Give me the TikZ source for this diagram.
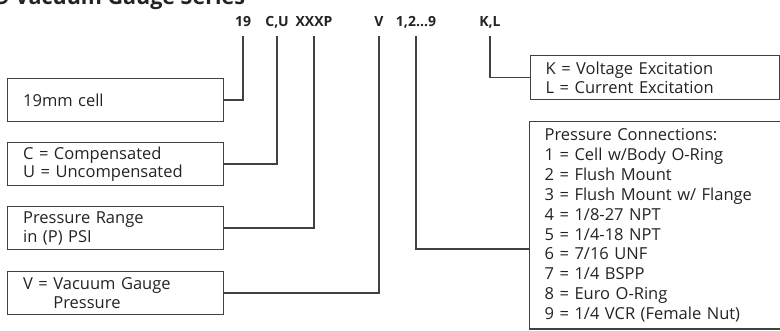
\documentclass[tikz,border=0pt]{standalone}
\usepackage{fontspec}
\setmainfont{Open Sans}
\usetikzlibrary{positioning, calc}
\definecolor{inkgray}{RGB}{35,35,35}
\definecolor{rulegray}{RGB}{65,65,65}

\begin{document}
\begin{tikzpicture}[x=1pt, y=-1pt,
    code/.style={font=\bfseries\fontsize{14}{16}\selectfont, text=inkgray, anchor=base, inner xsep=0pt, inner ysep=7pt, text height=9pt, text depth=2pt},
    optbox/.style={draw=rulegray, line width=1.3pt, text=inkgray, align=left, anchor=north west, inner xsep=15pt, inner ysep=0pt, font=\fontsize{16.5}{18.8}\selectfont},
    leftbox/.style={optbox, minimum width=216pt, minimum height=43pt, text width=185pt},
    link/.style={draw=rulegray, line width=1.3pt}
]
\useasboundingbox (0,0) rectangle (780,331);

% Title (cut at the top edge)
\node[font=\bfseries\fontsize{21.5}{24}\selectfont, text=inkgray, anchor=base west, inner sep=0pt] (title) at (-3,5) {9 Vacuum Gauge Series};

% Model code
\node[code] (c19) at (243,27) {19};
\node[code] (ccu) at (277,27) {C,U};
\node[code] (cxxxp) at (314,27) {XXXP};
\node[code] (cv) at (379,27) {V};
\node[code] (cconn) at (416,27) {1,2...9};
\node[code] (ckl) at (490,27) {K,L};

% Left column
\node[leftbox] (cell) at (7,78) {19mm cell};
\node[leftbox] (comp) at (7,142) {C = Compensated\\U = Uncompensated};
\node[leftbox] (range) at (7,206) {Pressure Range\\in (P) PSI};
\node[leftbox] (vac) at (7,271) {V = Vacuum Gauge\\\phantom{V = }Pressure};

% Right column
\node[optbox, minimum width=249pt, minimum height=44pt, text width=219pt] (excit) at (530,55) {K = Voltage Excitation\\L = Current Excitation};
\node[optbox, inner ysep=7pt, text width=250pt, font=\fontsize{16.5}{19.85}\selectfont] (conn) at (529,121) {Pressure Connections:\\1 = Cell w/Body O-Ring\\2 = Flush Mount\\3 = Flush Mount w/ Flange\\4 = 1/8-27 NPT\\5 = 1/4-18 NPT\\6 = 7/16 UNF\\7 = 1/4 BSPP\\8 = Euro O-Ring\\9 = 1/4 VCR (Female Nut)};

% Connectors
\draw[link] (c19.south) |- (cell.east);
\draw[link] (ccu.south) |- (comp.east);
\draw[link] (cxxxp.south) |- (range.east);
\draw[link] (cv.south) |- (vac.east);
\draw[link] (cconn.south) |- ([yshift=-128pt]conn.north west);
\draw[link] (ckl.south) |- (excit.west);

\end{tikzpicture}
\end{document}
